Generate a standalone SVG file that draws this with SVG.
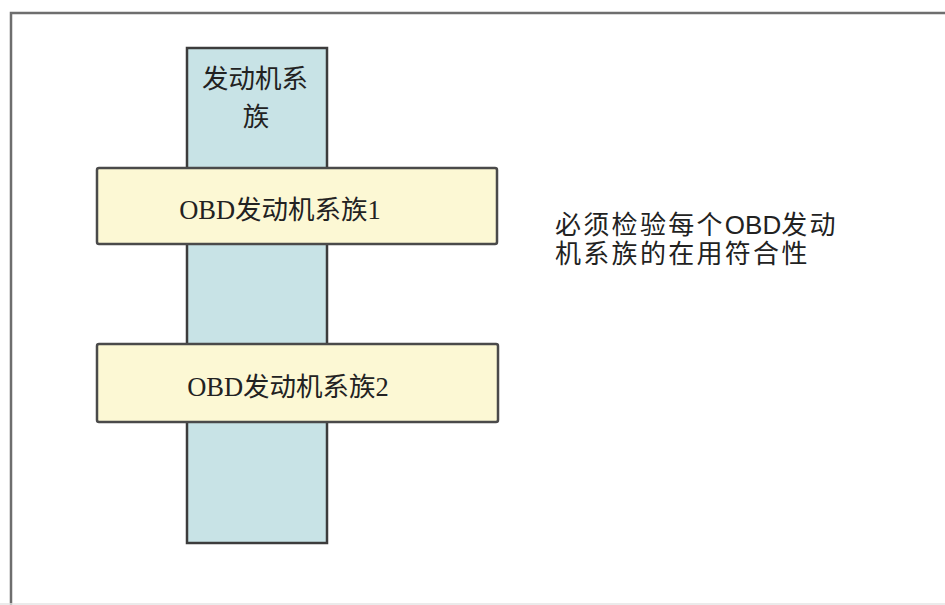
<svg xmlns="http://www.w3.org/2000/svg" width="945" height="605" viewBox="0 0 945 605">
<style>
.frame{fill:none;stroke:#6e6e6e;stroke-width:2.5}
.col{fill:#c8e3e6;stroke:#3c3c3c;stroke-width:2.5}
.bar{fill:#fcf8d4;stroke:#4a4a4a;stroke-width:2.5}
.serif{font-family:"Liberation Serif","Noto Sans CJK SC",serif;font-size:26.5px;fill:#222}
.sans{font-family:"Liberation Sans","Noto Sans CJK SC",sans-serif;font-size:26px;fill:#222;letter-spacing:2.3px}
.lat{letter-spacing:0}
</style>
<rect width="945" height="605" fill="#ffffff"/>
<path class="frame" d="M11,605 V13 H945"/>
<line x1="0" y1="604" x2="945" y2="604" stroke="#e4e4e4" stroke-width="1.5"/>
<g id="engine-family">
<rect class="col" x="187" y="48" width="140" height="495"/>
<text class="serif" x="255" y="88" text-anchor="middle">发动机系</text>
<text class="serif" x="256" y="126" text-anchor="middle">族</text>
</g>
<g id="obd-family-1">
<rect class="bar" x="97" y="168" width="400" height="76" rx="2"/>
<text class="serif" x="280" y="219" text-anchor="middle">OBD发动机系族1</text>
</g>
<g id="obd-family-2">
<rect class="bar" x="97" y="344" width="401" height="78" rx="2"/>
<text class="serif" x="288" y="396" text-anchor="middle">OBD发动机系族2</text>
</g>
<g id="note">
<text class="sans" x="555" y="234">必须检验每个<tspan class="lat">OBD</tspan>发动</text>
<text class="sans" x="555" y="263">机系族的在用符合性</text>
</g>
<g id="connectors"></g>
</svg>
